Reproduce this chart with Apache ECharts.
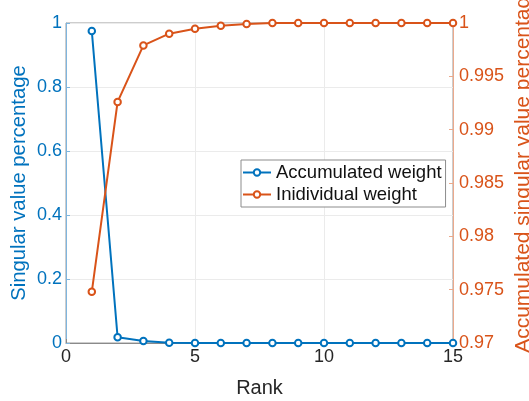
<!DOCTYPE html>
<html>
<head>
<meta charset="utf-8">
<script src="https://cdn.jsdelivr.net/npm/echarts@6/dist/echarts.min.js"></script>
<style>html,body{margin:0;padding:0;background:#fff;}#c{width:529px;height:401px;}</style>
</head>
<body>
<div id="c"></div>
<script>
var ranks = [1,2,3,4,5,6,7,8,9,10,11,12,13,14,15];
var accumulatedWeight = [0.975,0.018,0.006,0.001,0,0,0,0,0,0,0,0,0,0,0];
var individualWeight = [0.9748,0.9926,0.9979,0.9990,0.99947,0.99975,0.9999,1,1,1,1,1,1,1,1];
var xTicks = [0,5,10,15];
var leftTicks = [0,0.2,0.4,0.6,0.8,1];
var rightTicks = [0.97,0.975,0.98,0.985,0.99,0.995,1];
var seriesNames = ['Accumulated weight','Inidividual weight'];
var axisNames = ['Rank','Singular value percentage','Accumulated singular value percentage'];

var BLUE = '#0072BD', ORANGE = '#D95319';
var FONT = '"Liberation Sans", Arial, sans-serif';
function pair(a,b){ return a.map(function(v,i){return [v,b[i]];}); }

var chart = echarts.init(document.getElementById('c'), null, {renderer:'canvas'});
chart.setOption({
  animation:false,
  backgroundColor:'#fff',
  textStyle:{fontFamily:FONT},
  grid:{left:66,right:76,top:23,bottom:58,containLabel:false,outerBoundsMode:'none',
        show:true,borderColor:'#9a9a9a',borderWidth:1,backgroundColor:'#fff'},
  legend:{
    left:241, top:160, orient:'vertical', itemGap:3, padding:[3,4,3,1],
    borderColor:'#8c8c8c', borderWidth:1, backgroundColor:'#fff',
    itemWidth:28, itemHeight:8,
    textStyle:{fontSize:18.5,color:'#111',fontFamily:FONT},
    data:seriesNames
  },
  graphic:[{
    type:'text', x:523, y:169, rotation:Math.PI/2,
    style:{text:axisNames[2], fill:ORANGE, font:'21px "Liberation Sans", Arial, sans-serif',
           align:'center', verticalAlign:'middle'}
  }],
  xAxis:{
    type:'value', min:xTicks[0], max:xTicks[xTicks.length-1], interval:5,
    name:axisNames[0], nameLocation:'middle', nameGap:35,
    nameTextStyle:{fontSize:20,color:'#262626',fontFamily:FONT},
    axisLine:{show:true,onZero:false,lineStyle:{color:'#8a8a8a',width:1}},
    axisTick:{show:true,inside:true,length:4,lineStyle:{color:'#8a8a8a'}},
    axisLabel:{fontSize:18,color:'#262626',margin:5,fontFamily:FONT},
    splitLine:{show:true,lineStyle:{color:'#ebebeb',width:1}}
  },
  yAxis:[{
    type:'value', min:0, max:1, interval:0.2, position:'left',
    name:axisNames[1], nameLocation:'middle', nameGap:36.5, nameMoveOverlap:false,
    nameTextStyle:{fontSize:20.3,color:BLUE,fontFamily:FONT},
    axisLine:{show:true,onZero:false,lineStyle:{color:'#7fb5de',width:1}},
    axisTick:{show:true,inside:true,length:4,lineStyle:{color:'#7fb5de'}},
    axisLabel:{fontSize:18,color:BLUE,margin:4,fontFamily:FONT,formatter:function(v){return String(+v.toFixed(2));}},
    splitLine:{show:true,lineStyle:{color:'#ebebeb',width:1}}
  },{
    type:'value', min:0.97, max:1, interval:0.005, position:'right',
    axisLine:{show:true,onZero:false,lineStyle:{color:'#eba98c',width:1}},
    axisTick:{show:true,inside:true,length:4,lineStyle:{color:'#eba98c'}},
    axisLabel:{fontSize:18,color:ORANGE,margin:6,fontFamily:FONT,formatter:function(v){return String(+v.toFixed(3));}},
    splitLine:{show:false}
  }],
  series:[{
    name:seriesNames[0], type:'line', yAxisIndex:0,
    data:pair(ranks,accumulatedWeight),
    symbol:'emptyCircle', symbolSize:6.5,
    lineStyle:{color:BLUE,width:2}, itemStyle:{color:BLUE,borderWidth:1.5}
  },{
    name:seriesNames[1], type:'line', yAxisIndex:1,
    data:pair(ranks,individualWeight),
    symbol:'emptyCircle', symbolSize:6.5,
    lineStyle:{color:ORANGE,width:2}, itemStyle:{color:ORANGE,borderWidth:1.5}
  }]
});
</script>
</body>
</html>
